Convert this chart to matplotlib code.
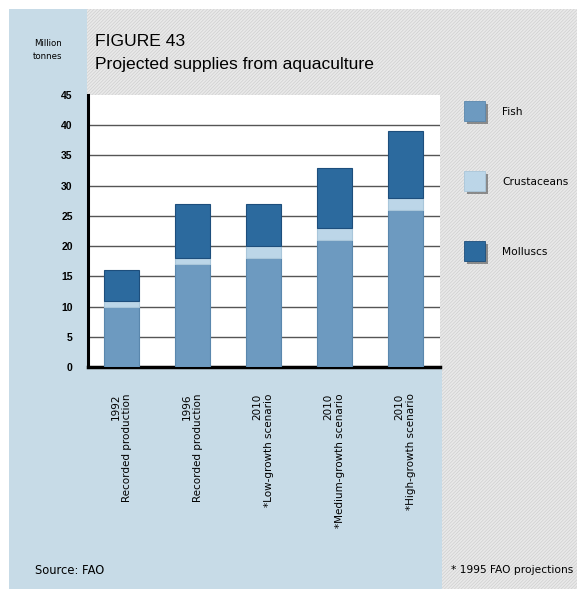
import matplotlib.pyplot as plt
from matplotlib.patches import Rectangle
import numpy as np

plt.rcParams['font.family'] = ['Liberation Sans', 'DejaVu Sans']
plt.rcParams['hatch.linewidth'] = 0.5

# Data (million tonnes)
categories = ["1992\nRecorded production",
              "1996\nRecorded production",
              "2010\n*Low-growth scenario",
              "2010\n*Medium-growth scenario",
              "2010\n*High-growth scenario"]
fish = [10, 17, 18, 21, 26]
crustaceans = [1, 1, 2, 2, 2]
molluscs = [5, 9, 7, 10, 11]
series_names = ["Fish", "Crustaceans", "Molluscs"]
series_colors = ["#6d9ac0", "#bcd6e8", "#2c6a9e"]
edge_colors = ["#5a87ad", "#a9c6da", "#1d4e7c"]
yticks = [0, 5, 10, 15, 20, 25, 30, 35, 40, 45]

W, H = 577, 589
fig = plt.figure(figsize=(W / 100, H / 100), dpi=100)
fig.patch.set_facecolor("white")


def px_rect(x0, y0, x1, y1, **kw):
    # rectangle given in pixel coords measured from top-left
    r = Rectangle((x0 / W, 1 - y1 / H), (x1 - x0) / W, (y1 - y0) / H,
                  transform=fig.transFigure, figure=fig, **kw)
    fig.patches.append(r)
    return r


# hatched grey background and light blue panels
px_rect(9, 9, W, H, facecolor="#e9e9e9", edgecolor="#cfcfcf",
        hatch="/" * 10, linewidth=0, zorder=-3)
px_rect(9, 9, 87, H, facecolor="#c7dbe7", edgecolor="none", zorder=-2)
px_rect(9, 367, 442, H, facecolor="#c7dbe7", edgecolor="none", zorder=-2)

ax = fig.add_axes([88 / W, 1 - 367 / H, (440 - 88) / W, (367 - 95) / H])
ax.set_zorder(2)
ax.set_facecolor("white")

x = np.arange(len(categories))
width = 0.49
bottom = np.zeros(len(categories))
for vals, col, ec in zip([fish, crustaceans, molluscs], series_colors, edge_colors):
    ax.bar(x, vals, width, bottom=bottom, color=col, edgecolor=ec,
           linewidth=0.8, zorder=3)
    bottom += np.array(vals)

ax.set_xlim(-0.47, 4.49)
ax.set_ylim(0, 45)
ax.set_yticks(yticks)
ax.set_yticklabels([str(v) for v in yticks], fontsize=7.5, fontweight="bold")
ax.tick_params(axis="y", length=0, pad=11)
for v in yticks[1:-1]:
    ax.axhline(v, color="#555555", linewidth=1.0, zorder=1)

ax.set_xticks(x)
ax.set_xticklabels(categories, rotation=90, va="top", ha="center",
                   multialignment="right", fontsize=7.5, family="DejaVu Sans")
ax.tick_params(axis="x", length=0, pad=19)

for s in ["top", "right"]:
    ax.spines[s].set_visible(False)
ax.spines["left"].set_linewidth(2.2)
ax.spines["bottom"].set_linewidth(2.5)

# titles and notes
fig.text(95 / W, 1 - 42 / H, "FIGURE 43", fontsize=12.6, va="center", ha="left")
fig.text(95 / W, 1 - 64 / H, "Projected supplies from aquaculture", fontsize=12.6,
         va="center", ha="left")
fig.text(48 / W, 1 - 50 / H, "Million\ntonnes", fontsize=6.2, va="center",
         ha="center", linespacing=1.5, family="DejaVu Sans")
fig.text(35 / W, 1 - 570 / H, "Source: FAO", fontsize=8.3, va="center", ha="left",
         family="DejaVu Sans")
fig.text(451 / W, 1 - 570 / H, "* 1995 FAO projections", fontsize=7.7,
         va="center", ha="left", family="DejaVu Sans")

# legend squares with shadow
for i, (name, col) in enumerate(zip(series_names, series_colors)):
    yc = 112 + 70 * i
    px_rect(467, yc - 8, 488, yc + 12, facecolor="#8a8a8a", edgecolor="none", zorder=2)
    px_rect(464, yc - 11, 485, yc + 9, facecolor=col, edgecolor=edge_colors[i],
            linewidth=0.6, zorder=3)
    fig.text(502 / W, 1 - yc / H, name, fontsize=7.7, va="center", ha="left",
             family="DejaVu Sans")

fig.savefig("out.png", dpi=100)
